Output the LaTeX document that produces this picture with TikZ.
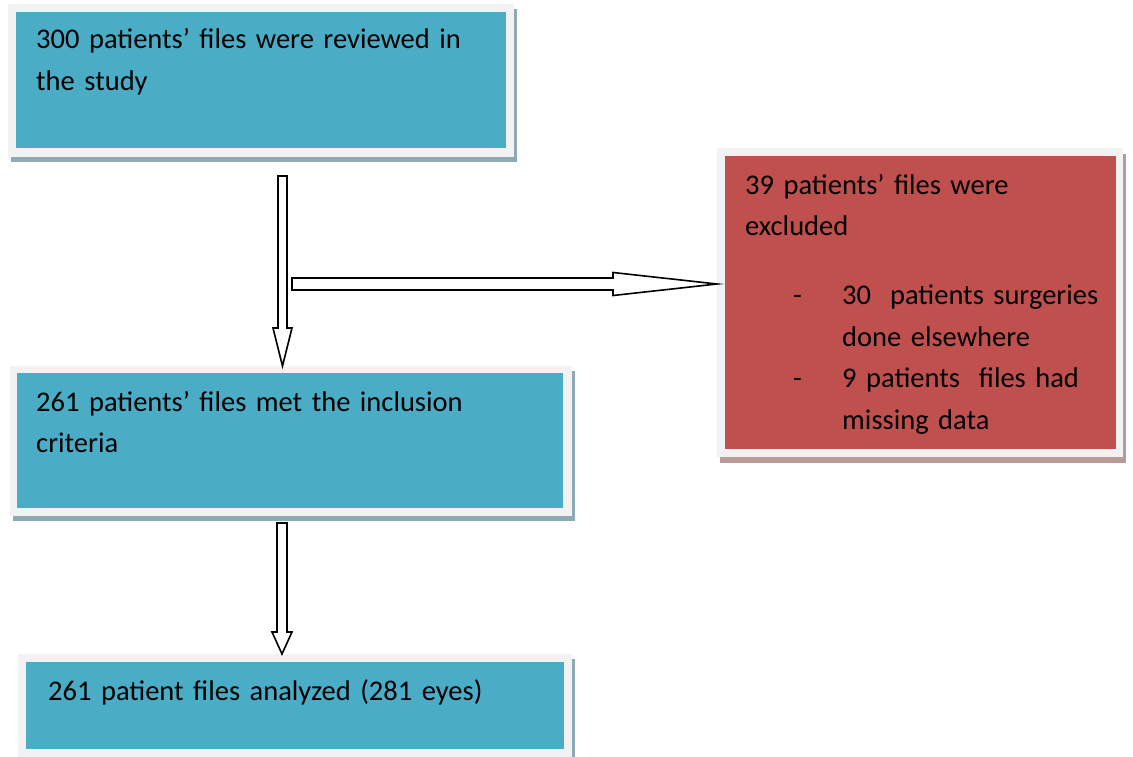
\documentclass[tikz,border=0pt]{standalone}
\usepackage{fontspec}
\setmainfont{Carlito}
\usetikzlibrary{positioning,calc,shadows}
\definecolor{boxblue}{RGB}{75,172,198}
\definecolor{boxred}{RGB}{192,80,77}
\definecolor{framegray}{RGB}{242,242,242}
\definecolor{shadeblue}{RGB}{143,170,180}
\definecolor{shadered}{RGB}{185,154,155}

\tikzset{
  frame/.style={fill=framegray, draw=none, anchor=north west, inner sep=0pt},
  blueframe/.style={frame, general shadow={fill=shadeblue, shadow xshift=3pt, shadow yshift=-5pt}},
  redframe/.style={frame, general shadow={fill=shadered, shadow xshift=3pt, shadow yshift=-6pt}},
  bluefill/.style={fill=boxblue, draw=none, anchor=north west, inner sep=0pt},
  redfill/.style={fill=boxred, draw=none, anchor=north west, inner sep=0pt},
  txt/.style={anchor=base west, inner sep=0pt, align=left, font=\fontsize{28.5}{41.5}\selectfont},
  blockarrow/.style={draw=black, fill=white, line width=1.6pt, line join=miter}
}

\begin{document}
\begin{tikzpicture}[x=1pt,y=-1pt]
\useasboundingbox (0,0) rectangle (1133,757);
\fill[white] (0,0) rectangle (1133,757);

% boxes
\node[blueframe, minimum width=506pt, minimum height=153pt] (rev) at (8,4) {};
\node[bluefill, minimum width=490pt, minimum height=136pt] (revfill) at (16,12) {};
\node[txt, text width=480pt] (revtxt) at (36,49) {300 patients’ files were reviewed in\\the study};

\node[blueframe, minimum width=562pt, minimum height=150pt] (met) at (10,366) {};
\node[bluefill, minimum width=546pt, minimum height=135pt] (metfill) at (17,373) {};
\node[txt, text width=520pt] (mettxt) at (36,411) {261 patients’ files met the inclusion\\criteria};

\node[redframe, minimum width=406pt, minimum height=309pt] (exc) at (717,148) {};
\node[redfill, minimum width=391pt, minimum height=293pt] (excfill) at (725,156) {};
\node[txt, text width=370pt] (exctxt) at (745,194) {39 patients’ files were\\excluded\\[28pt]
\hspace*{48pt}\makebox[49pt][l]{-}30\ \ patients surgeries\\
\hspace*{97pt}done elsewhere\\
\hspace*{48pt}\makebox[49pt][l]{-}9 patients\ \ files had\\
\hspace*{97pt}missing data};

\node[blueframe, minimum width=554pt, minimum height=112pt] (ana) at (18,654) {};
\node[bluefill, minimum width=538pt, minimum height=87pt] (anafill) at (26,662) {};
\node[txt, text width=520pt] (anatxt) at (48,700) {261 patient files analyzed (281 eyes)};

% arrows
\coordinate (a1top) at (282.5,176);
\coordinate (a1tip) at (a1top |- met.north);
\draw[blockarrow] ($(a1top)+(-4.5,0)$) -- ($(a1top)+(4.5,0)$) -- ($(a1tip)+(4.5,-38)$)
  -- ($(a1tip)+(9.5,-38)$) -- (a1tip) -- ($(a1tip)+(-9.5,-38)$) -- ($(a1tip)+(-4.5,-38)$) -- cycle;

\coordinate (a2start) at (292,284);
\coordinate (a2tip) at (a2start -| exc.west);
\draw[blockarrow] ($(a2start)+(0,-6)$) -- ($(a2tip)+(-104,-6)$) -- ($(a2tip)+(-104,-11.5)$)
  -- (a2tip) -- ($(a2tip)+(-104,11.5)$) -- ($(a2tip)+(-104,6)$) -- ($(a2start)+(0,6)$) -- cycle;

\coordinate (a3top) at (282,523);
\coordinate (a3tip) at (a3top |- ana.north);
\draw[blockarrow] ($(a3top)+(-5,0)$) -- ($(a3top)+(5,0)$) -- ($(a3tip)+(5,-22)$)
  -- ($(a3tip)+(10,-22)$) -- (a3tip) -- ($(a3tip)+(-10,-22)$) -- ($(a3tip)+(-5,-22)$) -- cycle;
\end{tikzpicture}
\end{document}
